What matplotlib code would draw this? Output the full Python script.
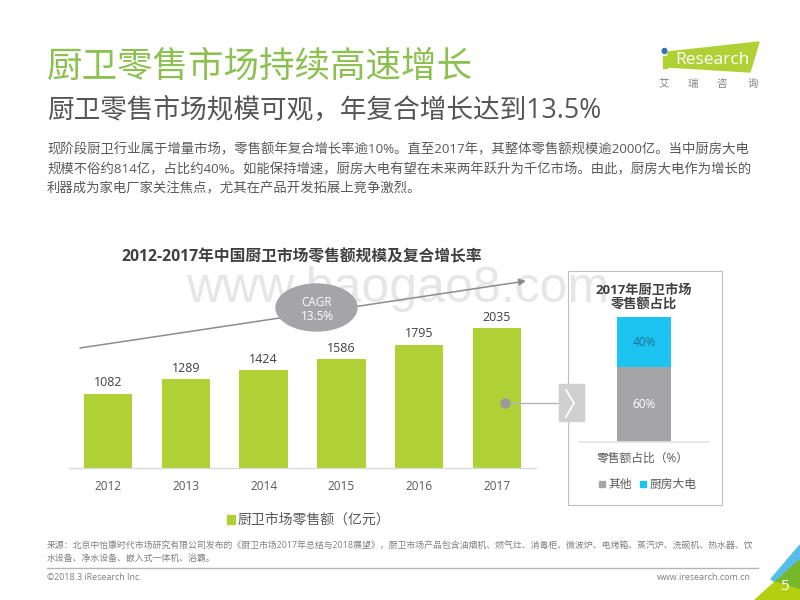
import matplotlib
matplotlib.use('Agg')
import matplotlib.pyplot as plt
from matplotlib.patches import Ellipse, Polygon, Rectangle

plt.rcParams['font.family'] = ['Open Sans', 'Noto Sans CJK SC', 'DejaVu Sans']

### Données ###
years = ['2012', '2013', '2014', '2015', '2016', '2017']
sales = [1082, 1289, 1424, 1586, 1795, 2035]
share_labels = ['零售额占比（%）']
share_other = [60]
share_kitchen = [40]

title = '厨卫零售市场持续高速增长'
subtitle = '厨卫零售市场规模可观，年复合增长达到13.5%'
body_lines = ['现阶段厨卫行业属于增量市场，零售额年复合增长率逾10%。直至2017年，其整体零售额规模逾2000亿。当中厨房大电',
              '规模不俗约814亿，占比约40%。如能保持增速，厨房大电有望在未来两年跃升为千亿市场。由此，厨房大电作为增长的',
              '利器成为家电厂家关注焦点，尤其在产品开发拓展上竞争激烈。']
source_lines = ['来源：北京中怡康时代市场研究有限公司发布的《厨卫市场2017年总结与2018展望》，厨卫市场产品包含油烟机、燃气灶、消毒柜、微波炉、电烤箱、蒸汽炉、洗碗机、热水器、饮',
                '水设备、净水设备、嵌入式一体机、浴霸。']

GREEN = '#b0d136'
GRAY_BAR = '#a5a5a8'
BLUE = '#1cc3f0'
TEXT = '#595959'

W, H = 800, 600
fig = plt.figure(figsize=(W / 100, H / 100), dpi=100)


def pixel_axes(left, top, right, bottom, **kwargs):
    """Crée des axes à partir de coordonnées en pixels (origine en haut à gauche)."""
    return fig.add_axes([left / W, 1 - bottom / H, (right - left) / W, (bottom - top) / H], **kwargs)


### Calque de la page, en pixels ###
page = fig.add_axes([0, 0, 1, 1], zorder=2)
page.set_xlim(0, W)
page.set_ylim(H, 0)
page.axis('off')

page.text(47, 68, title, fontsize=25.6, color='#8cc152', va='center', ha='left')
page.text(47, 111, subtitle, fontsize=19.2, color='#555555', va='center', ha='left')
for i, line in enumerate(body_lines):
    page.text(47, 150 + i * 19.5, line, fontsize=9.6, color=TEXT, va='center', ha='left')

# filigrane
page.text(398, 302, 'www.baogao8.com', fontsize=36, color='#e6e6e6', va='baseline', ha='center',
          family=['Liberation Sans'], zorder=0)

page.text(302, 257, '2012-2017年中国厨卫市场零售额规模及复合增长率', fontsize=11.3, color='#404040',
          va='center', ha='center', fontweight='bold')

# flèche CAGR
page.annotate('', xy=(526, 281), xytext=(80, 348),
              arrowprops=dict(arrowstyle='-|>', color='#8c8c8c', lw=1.1, shrinkA=0, shrinkB=0))
page.add_patch(Ellipse((316.5, 307.5), 81, 47, color=GRAY_BAR, zorder=3))
page.text(317, 302, 'CAGR', fontsize=8.5, color='white', va='center', ha='center', zorder=4)
page.text(317, 316, '13.5%', fontsize=8.5, color='white', va='center', ha='center', zorder=4)

# cadre du graphique de droite
page.add_patch(Rectangle((567.5, 271), 154.5, 234, fc='none', ec='#bfbfbf', lw=0.8))
page.plot([505, 560], [403, 403], color='#b3b3b3', lw=1, zorder=3)
page.plot([505], [403], 'o', color='#9a9a9a', ms=6.5, zorder=3)
page.add_patch(Rectangle((559, 384), 25, 37, color='#d0d0d0', zorder=4))
page.plot([566, 574, 566], [390, 403, 417], color='white', lw=1.3, zorder=5)
page.text(644, 298, '2017年厨卫市场\n零售额占比', fontsize=9.5, color='#404040', va='center', ha='center',
          fontweight='bold', linespacing=1.15)
page.text(643, 458, share_labels[0], fontsize=8.5, color=TEXT, va='center', ha='center')
page.add_patch(Rectangle((599, 481), 6, 6, color=GRAY_BAR))
page.text(608, 484.5, '其他', fontsize=8.5, color=TEXT, va='center', ha='left')
page.add_patch(Rectangle((640, 481), 6, 6, color=BLUE))
page.text(650, 484.5, '厨房大电', fontsize=8.5, color=TEXT, va='center', ha='left')

# légende du graphique principal
page.add_patch(Rectangle((227, 515), 8, 9, color=GREEN))
page.text(238, 520, '厨卫市场零售额（亿元）', fontsize=10, color=TEXT, va='center', ha='left')

# pied de page
for i, line in enumerate(source_lines):
    page.text(47, 546 + i * 12.5, line, fontsize=6.4, color='#7f7f7f', va='center', ha='left')
page.plot([47, 758], [567.5, 567.5], color='#b5b5b5', lw=1)
page.text(47, 578, '©2018.3 iResearch Inc.', fontsize=6.4, color='#7f7f7f', va='center', ha='left')
page.text(751, 578, 'www.iresearch.com.cn', fontsize=6.4, color='#7f7f7f', va='center', ha='right')

# coin bas droit
page.add_patch(Polygon([(771, 579), (800, 545), (800, 560), (775, 582)], color='#57bde8'))
page.add_patch(Polygon([(775, 582), (800, 560), (800, 590)], color='#76b82a'))
page.add_patch(Polygon([(755, 600), (775, 582), (800, 590), (800, 600)], color='#b4cf0f'))
page.text(784, 587, '5', fontsize=11, color='white', va='center', ha='center')

# logo
page.add_patch(Polygon([(668, 52), (759, 42), (750, 72), (668, 67)], color=GREEN))
page.add_patch(Ellipse((664.5, 51), 4.5, 5, color='#2e75b6'))
page.add_patch(Rectangle((663, 56), 3.5, 12, color=GREEN))
page.text(712, 60, 'Research', fontsize=12.5, color='white', va='center', ha='center')
for x, ch in zip([664, 693, 722, 753], '艾瑞咨询'):
    page.text(x, 84, ch, fontsize=7.5, color='#808080', va='center', ha='center')

### Graphique principal ###
ax = pixel_axes(69, 300, 536, 468, zorder=1)
ax.patch.set_alpha(0)
bars = ax.bar(years, sales, width=0.62, color=GREEN)
ax.bar_label(bars, labels=[str(v) for v in sales], padding=3, fontsize=9, color='#404040')
ax.set_xlim(-0.5, 5.5)
ax.set_ylim(0, 2442)
ax.set_yticks([])
for side in ['top', 'left', 'right']:
    ax.spines[side].set_visible(False)
ax.spines['bottom'].set_color('#d9d9d9')
ax.spines['bottom'].set_linewidth(1)
ax.tick_params(axis='x', length=0, pad=9, labelsize=8.5, labelcolor=TEXT)

### Graphique empilé 2017 ###
ax2 = pixel_axes(579, 300, 709, 442, zorder=1)
ax2.patch.set_alpha(0)
ax2.bar(share_labels, share_other, width=0.41, color=GRAY_BAR)
ax2.bar(share_labels, share_kitchen, bottom=share_other, width=0.41, color=BLUE)
ax2.text(0, share_other[0] / 2, f'{share_other[0]}%', fontsize=8.5, color='white', va='center', ha='center')
ax2.text(0, share_other[0] + share_kitchen[0] / 2, f'{share_kitchen[0]}%', fontsize=8.5, color='#1f6f8f',
         va='center', ha='center')
ax2.set_xlim(-0.5, 0.5)
ax2.set_ylim(0, 113.6)
ax2.set_xticks([])
ax2.set_yticks([])
for side in ['top', 'left', 'right']:
    ax2.spines[side].set_visible(False)
ax2.spines['bottom'].set_color('#e3e3e3')
ax2.spines['bottom'].set_linewidth(1.2)

fig.savefig('out.png', dpi=100)
